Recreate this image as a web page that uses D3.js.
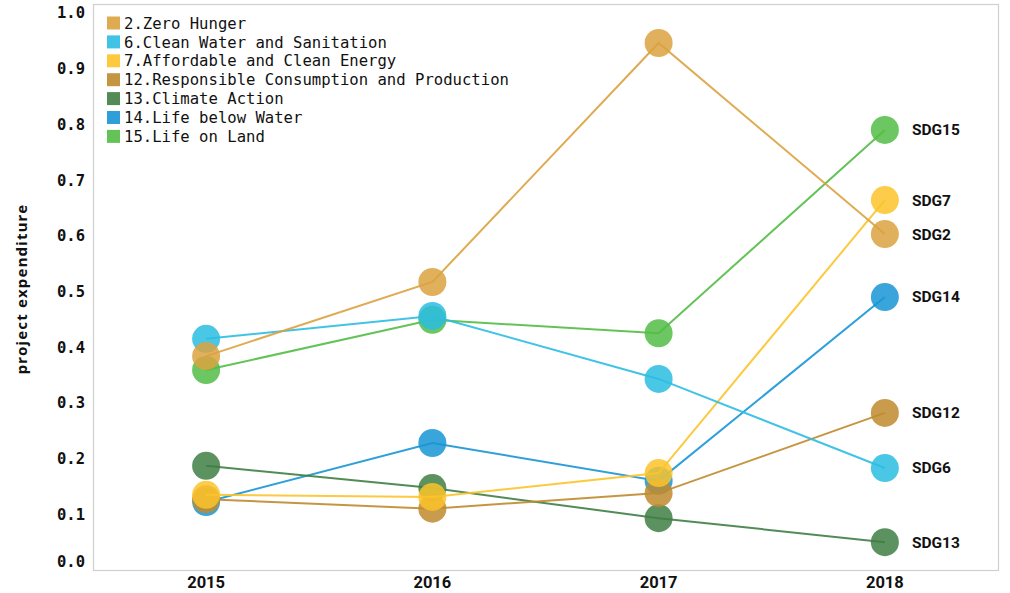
<!DOCTYPE html>
<html>
<head>
<meta charset="utf-8">
<script src="https://cdn.jsdelivr.net/npm/d3@7/dist/d3.min.js"></script>
<style>
  html, body { margin: 0; padding: 0; background: #fff; }
  svg { display: block; }
</style>
</head>
<body>
<svg id="chart" width="1010" height="593"></svg>
<script>
// ---- data ----
const years = ["2015", "2016", "2017", "2018"];
const seriesNames = [
  "2.Zero Hunger",
  "6.Clean Water and Sanitation",
  "7.Affordable and Clean Energy",
  "12.Responsible Consumption and Production",
  "13.Climate Action",
  "14.Life below Water",
  "15.Life on Land"
];
const seriesTags = ["SDG2", "SDG6", "SDG7", "SDG12", "SDG13", "SDG14", "SDG15"];
const seriesColors = ["#DBA23F", "#2BBDE2", "#FCC32A", "#BF8B2E", "#3F7E44", "#1895D5", "#52BC45"];
const sdg2  = [0.384, 0.517, 0.946, 0.603];
const sdg6  = [0.415, 0.456, 0.343, 0.183];
const sdg7  = [0.135, 0.131, 0.174, 0.664];
const sdg12 = [0.127, 0.110, 0.138, 0.282];
const sdg13 = [0.187, 0.147, 0.093, 0.050];
const sdg14 = [0.122, 0.228, 0.160, 0.490];
const sdg15 = [0.359, 0.449, 0.425, 0.790];
const seriesValues = [sdg2, sdg6, sdg7, sdg12, sdg13, sdg14, sdg15];
const yTicks = [0, 0.1, 0.2, 0.3, 0.4, 0.5, 0.6, 0.7, 0.8, 0.9, 1.0];
const yTitle = "project expenditure";

// ---- layout ----
const svg = d3.select("#chart");
const L = 93, R = 998, T = 4, B = 570;

const x = d3.scaleBand().domain(years).range([L, R]).paddingInner(0).paddingOuter(0);
const xc = d => x(d) + x.bandwidth() / 2;
const y = d3.scaleLinear().domain([0, 1.016]).range([B, T]);

// frame
svg.append("rect")
  .attr("x", L + 0.5).attr("y", T + 0.5)
  .attr("width", R - L).attr("height", B - T)
  .attr("fill", "none").attr("stroke", "#cfcfcf").attr("stroke-width", 1.2);

// y axis
const yAxis = svg.append("g")
  .attr("transform", `translate(${L},0)`)
  .call(d3.axisLeft(y).tickValues(yTicks).tickFormat(d3.format(".1f")).tickSize(0).tickPadding(8));
yAxis.select(".domain").remove();
yAxis.selectAll("text")
  .attr("font-family", "'DejaVu Sans Mono', monospace")
  .attr("font-weight", "bold")
  .attr("font-size", "15.5px")
  .attr("fill", "#111")
  .attr("dy", (d) => d === 0 ? "-0.2em" : "0.32em");

// x axis
const xAxis = svg.append("g")
  .attr("transform", `translate(0,${B})`)
  .call(d3.axisBottom(x).tickSize(0).tickPadding(6));
xAxis.select(".domain").remove();
xAxis.selectAll("text")
  .attr("font-family", "Roboto, Arial, sans-serif")
  .attr("font-weight", "bold")
  .attr("font-size", "16.5px")
  .attr("fill", "#111");

// y title
svg.append("text")
  .attr("transform", `translate(27,${289}) rotate(-90)`)
  .attr("text-anchor", "middle")
  .attr("font-family", "'Noto Sans', Arial, sans-serif")
  .attr("font-weight", "bold")
  .attr("font-size", "15px")
  .attr("letter-spacing", "1.2px")
  .attr("fill", "#111")
  .text(yTitle);

// series (drawn in reverse so earlier series sit on top)
const line = d3.line().x((d, i) => xc(years[i])).y(d => y(d));
const order = d3.range(seriesNames.length).reverse();
order.forEach(s => {
  const g = svg.append("g");
  g.append("path")
    .datum(seriesValues[s])
    .attr("d", line)
    .attr("fill", "none")
    .attr("stroke", seriesColors[s])
    .attr("stroke-opacity", 0.9)
    .attr("stroke-width", 2);
  g.selectAll("circle")
    .data(seriesValues[s])
    .join("circle")
    .attr("cx", (d, i) => xc(years[i]))
    .attr("cy", d => y(d))
    .attr("r", 14)
    .attr("fill", seriesColors[s])
    .attr("fill-opacity", 0.85);
});

// end labels
seriesValues.forEach((vals, s) => {
  const last = vals[vals.length - 1];
  svg.append("text")
    .attr("x", xc(years[years.length - 1]) + 27)
    .attr("y", y(last))
    .attr("dy", "0.35em")
    .attr("font-family", "Roboto, Arial, sans-serif")
    .attr("font-weight", "bold")
    .attr("font-size", "15.5px")
    .attr("fill", "#111")
    .text(seriesTags[s]);
});

// legend
const legend = svg.append("g").attr("transform", "translate(107,23)");
seriesNames.forEach((n, i) => {
  const row = legend.append("g").attr("transform", `translate(0,${i * 18.9})`);
  row.append("rect")
    .attr("x", 0).attr("y", -6.5)
    .attr("width", 13).attr("height", 13)
    .attr("fill", seriesColors[i]).attr("fill-opacity", 0.9);
  row.append("text")
    .attr("x", 17).attr("y", 0).attr("dy", "0.36em")
    .attr("font-family", "'DejaVu Sans Mono', monospace")
    .attr("font-size", "15.6px")
    .attr("fill", "#111")
    .text(n);
});
</script>
</body>
</html>
